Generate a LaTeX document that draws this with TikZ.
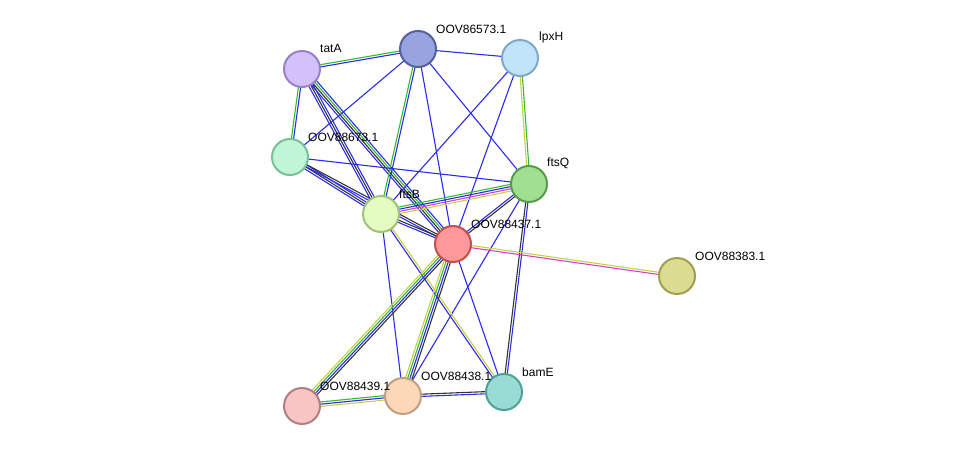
\documentclass[tikz,border=0pt]{standalone}
\usepackage{fontspec}
\setmainfont{Liberation Sans}
\usetikzlibrary{calc}
\definecolor{eb}{HTML}{2B2BEE}
\definecolor{eg}{HTML}{33BB33}
\definecolor{ek}{HTML}{333333}
\definecolor{ey}{HTML}{C8D040}
\definecolor{em}{HTML}{D040D0}
\definecolor{f1}{HTML}{D4C0FA}\definecolor{d1}{HTML}{9A80C8}
\definecolor{f2}{HTML}{98A4E0}\definecolor{d2}{HTML}{5560A0}
\definecolor{f3}{HTML}{C0E4FA}\definecolor{d3}{HTML}{80A8C8}
\definecolor{f4}{HTML}{C0F5D8}\definecolor{d4}{HTML}{78C098}
\definecolor{f5}{HTML}{A0E090}\definecolor{d5}{HTML}{5A9A50}
\definecolor{f6}{HTML}{E4FCC0}\definecolor{d6}{HTML}{A0C080}
\definecolor{f7}{HTML}{FF9898}\definecolor{d7}{HTML}{C05050}
\definecolor{f8}{HTML}{DCDC90}\definecolor{d8}{HTML}{A0A050}
\definecolor{f9}{HTML}{F8C4C4}\definecolor{d9}{HTML}{B08080}
\definecolor{f10}{HTML}{FCD8B8}\definecolor{d10}{HTML}{C0A080}
\definecolor{f11}{HTML}{98DCD4}\definecolor{d11}{HTML}{50A098}
\newcommand\Edge[4]{\foreach \c [count=\i] in {#4}{\draw[\c,line width=1.1pt] ($(#1)!{(\i-(#2+1)/2)*2.2pt}!90:(#3)$) -- ($(#3)!{(\i-(#2+1)/2)*2.2pt}!-90:(#1)$);}}
\tikzset{prot/.style={circle,minimum size=36pt,inner sep=0pt,line width=2pt,fill=f#1,draw=d#1},
lab/.style={font=\fontsize{12pt}{13pt}\selectfont,anchor=south west,inner sep=1pt}}
\begin{document}
\begin{tikzpicture}[x=1pt,y=-1pt]
\useasboundingbox (0,0) rectangle (976,452);
\coordinate (tatA) at (302,69);
\coordinate (o573) at (418,49);
\coordinate (lpxH) at (520,58);
\coordinate (o673) at (290,157);
\coordinate (ftsQ) at (529,184);
\coordinate (ftsB) at (381,214);
\coordinate (o437) at (453,244);
\coordinate (o383) at (677,276);
\coordinate (o439) at (302,406);
\coordinate (o438) at (403,396);
\coordinate (bamE) at (504,392);
\Edge{tatA}{2}{o573}{eb,eg}
\Edge{o573}{1}{lpxH}{eb}
\Edge{tatA}{2}{o673}{eg,eb}
\Edge{tatA}{3}{ftsB}{eb,ek,eb}
\Edge{tatA}{4}{o437}{eb,ek,eg,eb}
\Edge{o573}{1}{o673}{eb}
\Edge{o573}{2}{ftsB}{eg,eb}
\Edge{o573}{1}{o437}{eb}
\Edge{o573}{1}{ftsQ}{eb}
\Edge{lpxH}{2}{ftsQ}{ey,eg}
\Edge{lpxH}{1}{ftsB}{eb}
\Edge{lpxH}{1}{o437}{eb}
\Edge{o673}{1}{ftsQ}{eb}
\Edge{o673}{3}{ftsB}{eb,ek,eb}
\Edge{o673}{2}{o437}{eb,ek}
\Edge{ftsB}{4}{ftsQ}{ey,em,eb,eg}
\Edge{ftsQ}{2}{o437}{eb,ek}
\Edge{ftsQ}{2}{bamE}{ek,eb}
\Edge{ftsQ}{1}{o438}{eb}
\Edge{ftsB}{2}{o437}{eb,ek}
\Edge{ftsB}{1}{o438}{eb}
\Edge{ftsB}{2}{bamE}{eb,ey}
\Edge{o437}{2}{o383}{em,ey}
\Edge{o437}{4}{o439}{ey,eg,eb,ek}
\Edge{o437}{4}{o438}{ey,eg,eb,ek}
\Edge{o437}{1}{bamE}{eb}
\Edge{o439}{3}{o438}{ey,eb,eg}
\Edge{o438}{2}{bamE}{eb,ek}
\node[prot=1] (ntatA) at (tatA) {};
\node[prot=2] (n573) at (o573) {};
\node[prot=3] (nlpxH) at (lpxH) {};
\node[prot=4] (n673) at (o673) {};
\node[prot=5] (nftsQ) at (ftsQ) {};
\node[prot=6] (nftsB) at (ftsB) {};
\node[prot=7] (n437) at (o437) {};
\node[prot=8] (n383) at (o383) {};
\node[prot=9] (n439) at (o439) {};
\node[prot=10] (n438) at (o438) {};
\node[prot=11] (nbamE) at (bamE) {};
\node[lab] (ltatA) at (319,54) {tatA};
\node[lab] (l573) at (435,35) {OOV86573.1};
\node[lab] (llpxH) at (538,44) {lpxH};
\node[lab] (l673) at (307,143) {OOV88673.1};
\node[lab] (lftsQ) at (546,170) {ftsQ};
\node[lab] (lftsB) at (398,200) {ftsB};
\node[lab] (l437) at (470,230) {OOV88437.1};
\node[lab] (l383) at (694,262) {OOV88383.1};
\node[lab] (l439) at (319,392) {OOV88439.1};
\node[lab] (l438) at (420,382) {OOV88438.1};
\node[lab] (lbamE) at (521,378) {bamE};
\end{tikzpicture}
\end{document}
